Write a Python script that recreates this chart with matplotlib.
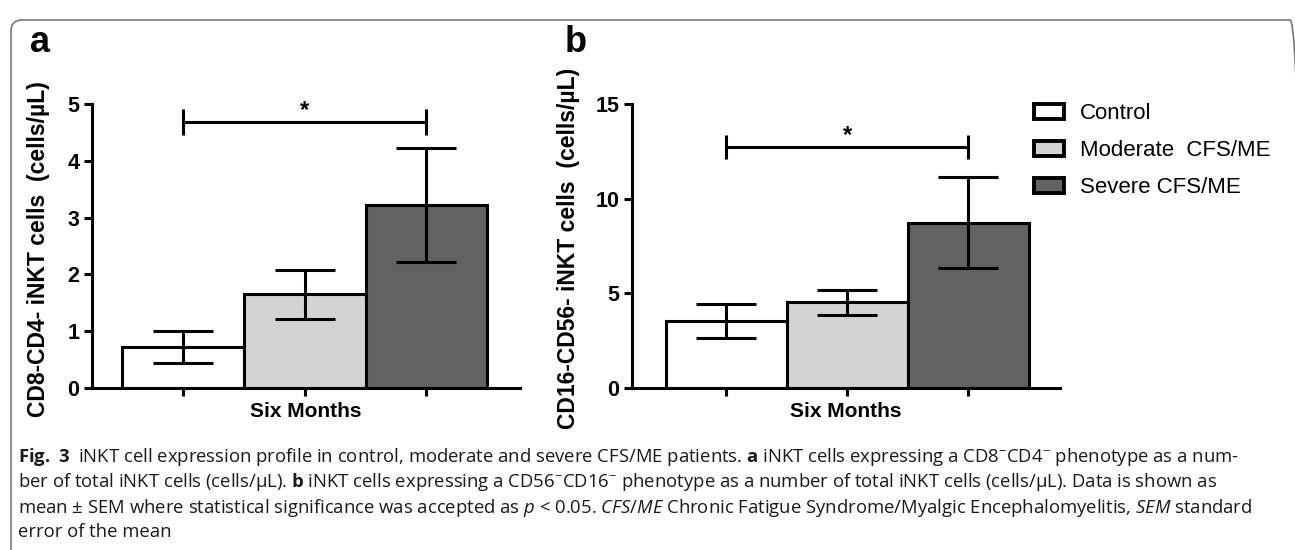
import numpy as np
import matplotlib
matplotlib.use("Agg")
import matplotlib.pyplot as plt
from matplotlib.patches import Patch, FancyBboxPatch
from matplotlib.transforms import IdentityTransform

plt.rcParams['font.family'] = ['Liberation Sans', 'DejaVu Sans']
plt.rcParams['mathtext.fontset'] = 'custom'
plt.rcParams['mathtext.rm'] = 'Open Sans'
plt.rcParams['mathtext.bf'] = 'Open Sans:bold'
plt.rcParams['mathtext.it'] = 'Open Sans:italic'

# data
groups = ['Control', 'Moderate  CFS/ME', 'Severe CFS/ME']
colors = ['white', '#d3d3d3', '#626262']

a_mean = [0.72, 1.65, 3.22]
a_sem = [0.28, 0.43, 1.00]
b_mean = [3.55, 4.52, 8.72]
b_sem = [0.90, 0.66, 2.40]

panels = ['a', 'b']
ylabels = ['CD8-CD4- iNKT cells  (cells/\u00b5L)', 'CD16-CD56- iNKT cells  (cells/\u00b5L)']
ymax = [5, 15]
yticks = [[0, 1, 2, 3, 4, 5], [0, 5, 10, 15]]
sig_y = [4.68, 12.73]
sig_cap = [0.23, 0.63]
xlabel = 'Six Months'

caption = [
    r"$\mathbf{Fig.\ 3}$  iNKT cell expression profile in control, moderate and severe CFS/ME patients. "
    r"$\mathbf{a}$ iNKT cells expressing a CD8$^{-}$CD4$^{-}$ phenotype as a num-",
    "ber of total iNKT cells (cells/\u00b5L). $\\mathbf{b}$ iNKT cells expressing a CD56$^{-}$CD16$^{-}$ "
    "phenotype as a number of total iNKT cells (cells/\u00b5L). Data is shown as",
    "mean \u00b1 SEM where statistical significance was accepted as $\\mathit{p}$ < 0.05. "
    "$\\mathit{CFS/ME}$ Chronic Fatigue Syndrome/Myalgic Encephalomyelitis, $\\mathit{SEM}$ standard",
    "error of the mean",
]

W, H = 1295, 550
fig = plt.figure(figsize=(W / 100, H / 100), dpi=100)

# rounded frame
fig.patches.append(FancyBboxPatch((11, -30), 1290, 560, boxstyle='round,pad=0,rounding_size=11',
                                  transform=IdentityTransform(), fill=False, edgecolor='#777777',
                                  linewidth=1.2))

lw = 2.2
x = np.arange(3)
axes_left = [92, 632]
xlims = [(-0.75, 2.77), (-0.777, 2.76)]
label_x = [-0.098, -0.121]
letter_x = [30, 565]

for i, (means, sems) in enumerate([(a_mean, a_sem), (b_mean, b_sem)]):
    ax = fig.add_axes([axes_left[i] / W, 162 / H, 428 / W, 284 / H])
    ax.bar(x, means, width=1.0, color=colors, edgecolor='black', linewidth=lw, zorder=2)
    ax.errorbar(x, means, yerr=sems, fmt='none', ecolor='black', elinewidth=lw,
                capsize=21.6, capthick=lw, zorder=3)
    # significance bracket between control and severe
    ax.errorbar([x[0], x[2]], [sig_y[i]] * 2, yerr=sig_cap[i], fmt='none', ecolor='black',
                elinewidth=lw, capsize=0, zorder=3)
    ax.plot([x[0], x[2]], [sig_y[i]] * 2, color='black', lw=lw, zorder=3, solid_capstyle='butt')
    ax.text(x[1], sig_y[i], '*', ha='center', va='bottom', fontsize=17, fontweight='bold')

    ax.set_xlim(*xlims[i])
    ax.set_ylim(0, ymax[i])
    ax.set_yticks(yticks[i])
    ax.set_xticks(x)
    ax.set_xticklabels([])
    for s in ['top', 'right']:
        ax.spines[s].set_visible(False)
    for s in ['left', 'bottom']:
        ax.spines[s].set_linewidth(lw)
    ax.tick_params(width=lw, length=6, labelsize=15.5, pad=3)
    for t in ax.get_yticklabels():
        t.set_fontweight('bold')
    ax.set_ylabel(ylabels[i], fontsize=16.5, fontweight='bold')
    ax.yaxis.set_label_coords(label_x[i], 0.49)
    ax.set_xlabel(xlabel, fontsize=15, fontweight='bold')
    ax.xaxis.set_label_coords(0.5, -0.05)
    fig.text(letter_x[i], H - 52, panels[i], transform=IdentityTransform(), fontsize=26,
             fontweight='bold', ha='left', va='baseline')

    if i == 1:
        handles = [Patch(facecolor=c, edgecolor='black', linewidth=lw + 0.6, joinstyle='round')
                   for c in colors]
        ax.legend(handles, groups, loc='upper left', bbox_to_anchor=(1034 / W, 1 - 103 / H),
                  bbox_transform=fig.transFigure, frameon=False, fontsize=16, borderpad=0,
                  handlelength=1.35, handleheight=0.65, handletextpad=0.7, labelspacing=0.72,
                  borderaxespad=0)

# caption
base = [462, 487, 513, 537]
for line, yb in zip(caption, base):
    fig.text(18, H - yb, line, transform=IdentityTransform(), family='Open Sans',
             fontsize=13.3, ha='left', va='baseline', color='#1a1a1a')

fig.savefig('out.png', dpi=100)
